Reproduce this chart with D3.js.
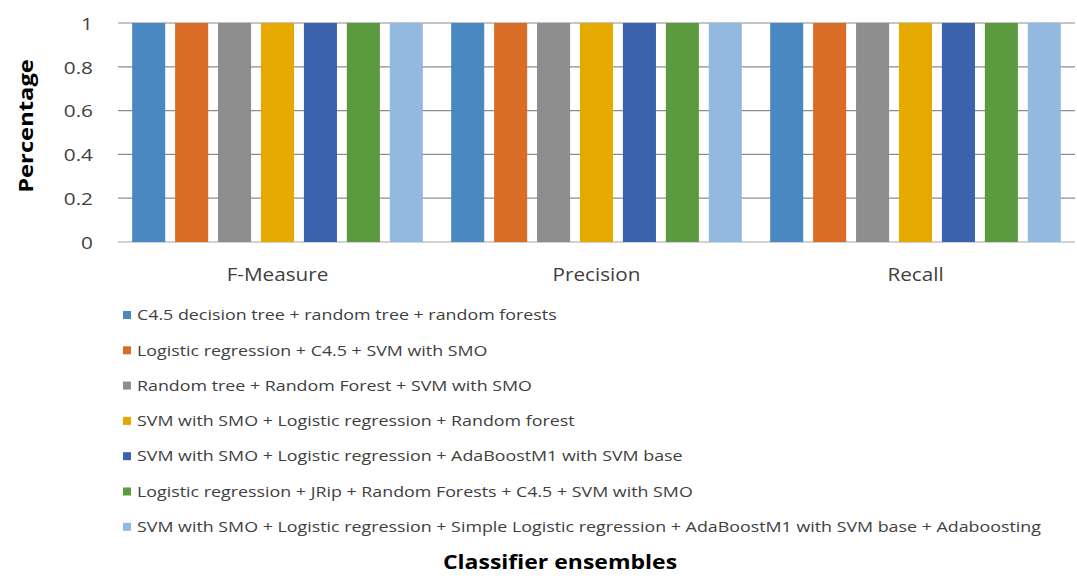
<!DOCTYPE html>
<html>
<head>
<meta charset="utf-8">
<script src="https://cdn.jsdelivr.net/npm/d3@7"></script>
<style>
  body { margin: 0; background: #fff; }
  text { font-family: "Open Sans", "Liberation Sans", sans-serif; fill: #404040; }
</style>
</head>
<body>
<div id="chart"></div>
<script>
const WIDTH = 1077;
const HEIGHT = 578;
const MARGIN = { left: 118, right: 2, top: 23, bottom: 336 };

// data
const categories = ["F-Measure", "Precision", "Recall"];
const ensembles = [
  "C4.5 decision tree + random tree + random forests",
  "Logistic regression + C4.5 + SVM with SMO",
  "Random tree + Random Forest + SVM with SMO",
  "SVM with SMO + Logistic regression + Random forest",
  "SVM with SMO + Logistic regression + AdaBoostM1 with SVM base",
  "Logistic regression + JRip + Random Forests + C4.5 + SVM with SMO",
  "SVM with SMO + Logistic regression + Simple Logistic regression + AdaBoostM1 with SVM base + Adaboosting"
];
// values[ensemble][category]
const values = [
  [1, 1, 1],
  [1, 1, 1],
  [1, 1, 1],
  [1, 1, 1],
  [1, 1, 1],
  [1, 1, 1],
  [1, 1, 1]
];
const yTicks = [0, 0.2, 0.4, 0.6, 0.8, 1];
const colors = ["#4a88c2", "#d96d27", "#8e8e8e", "#e5a900", "#3a62ad", "#5b9a3f", "#94b9e1"];

const svg = d3.select("#chart").append("svg")
  .attr("width", WIDTH)
  .attr("height", HEIGHT);

// text in the original is drawn a bit wider than any installed font,
// so stretch it horizontally around its anchor point
function place(sel, x, y, sx) {
  sel.attr("x", 0).attr("y", 0)
    .attr("transform", (d, i) => {
      const px = typeof x === "function" ? x(d, i) : x;
      const py = typeof y === "function" ? y(d, i) : y;
      return `translate(${px},${py}) scale(${sx},1)`;
    });
}

const x0 = d3.scaleBand()
  .domain(categories)
  .range([MARGIN.left, WIDTH - MARGIN.right]);

const x1 = d3.scaleBand()
  .domain(d3.range(ensembles.length))
  .range([0, x0.bandwidth()])
  .paddingInner(0.23)
  .paddingOuter(0.33);

const y = d3.scaleLinear()
  .domain([0, 1])
  .range([HEIGHT - MARGIN.bottom, MARGIN.top]);

// gridlines
svg.append("g").selectAll("line")
  .data(yTicks)
  .join("line")
  .attr("x1", MARGIN.left)
  .attr("x2", WIDTH - MARGIN.right)
  .attr("y1", d => y(d))
  .attr("y2", d => y(d))
  .attr("stroke", d => d === 0 ? "#a6a6a6" : "#8c8c8c")
  .attr("stroke-width", 1.2);

// y tick labels
svg.append("g").selectAll("text")
  .data(yTicks)
  .join("text")
  .attr("dy", "0.36em")
  .attr("text-anchor", "end")
  .style("font-size", "16px")
  .text(d => d)
  .call(place, 93, d => y(d) + 1, 1.3);

// bars
const groups = svg.append("g").selectAll("g")
  .data(categories)
  .join("g")
  .attr("transform", d => `translate(${x0(d)},0)`);

groups.selectAll("rect")
  .data((c, ci) => ensembles.map((e, ei) => ({ ei, v: values[ei][ci] })))
  .join("rect")
  .attr("x", d => x1(d.ei))
  .attr("width", x1.bandwidth())
  .attr("y", d => y(d.v))
  .attr("height", d => y(0) - y(d.v))
  .attr("fill", d => colors[d.ei]);

// category labels
svg.append("g").selectAll("text")
  .data(categories)
  .join("text")
  .attr("text-anchor", "middle")
  .style("font-size", "18px")
  .text(d => d)
  .call(place, d => x0(d) + x0.bandwidth() / 2, 281, 1.15);

// y axis title
svg.append("text")
  .attr("text-anchor", "middle")
  .attr("dy", "0.35em")
  .style("font-size", "19px")
  .style("font-weight", "bold")
  .style("fill", "#000")
  .text("Percentage")
  .attr("transform", "translate(26,126) rotate(-90) scale(1.25,1)");

// legend
const legend = svg.append("g").selectAll("g")
  .data(ensembles)
  .join("g")
  .attr("transform", (d, i) => `translate(123,${315 + i * 35.3})`);

legend.append("rect")
  .attr("x", 0)
  .attr("y", -4)
  .attr("width", 8)
  .attr("height", 8)
  .attr("fill", (d, i) => colors[i]);

legend.append("text")
  .attr("dy", "0.36em")
  .style("font-size", "14.5px")
  .text(d => d)
  .call(place, 14, 0, 1.23);

// x axis title
svg.append("text")
  .attr("text-anchor", "middle")
  .style("font-size", "20px")
  .style("font-weight", "bold")
  .style("fill", "#000")
  .text("Classifier ensembles")
  .call(place, 560, 569, 1.15);
</script>
</body>
</html>
